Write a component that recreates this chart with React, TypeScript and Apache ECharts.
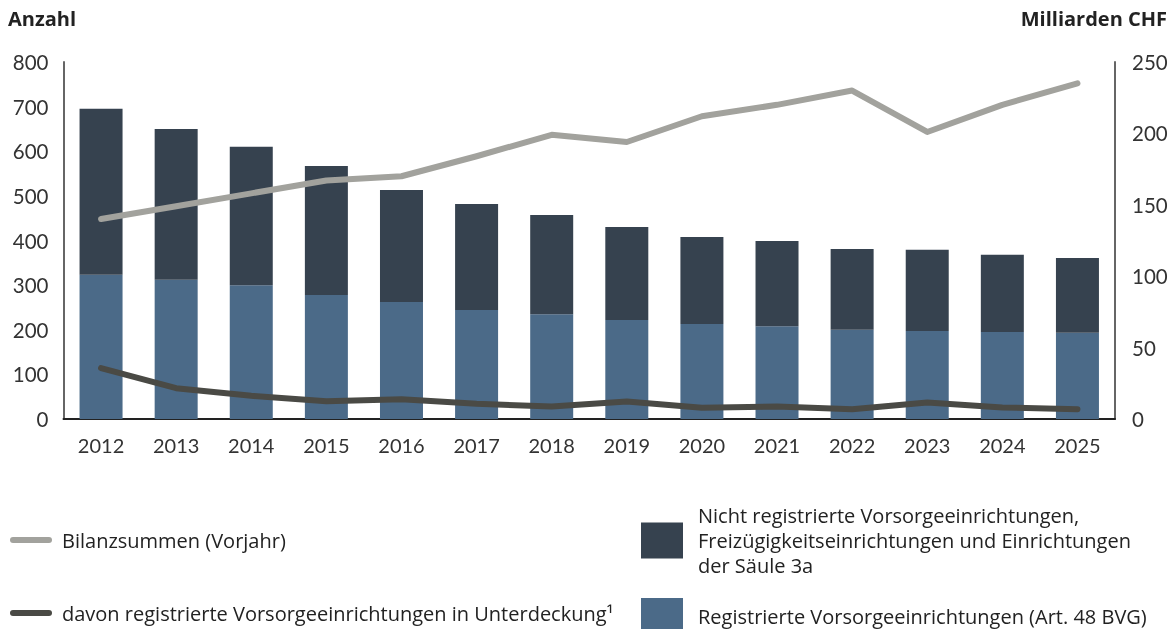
import React, { useEffect, useRef } from "react";
import * as echarts from "echarts";

const years = ["2012", "2013", "2014", "2015", "2016", "2017", "2018", "2019", "2020", "2021", "2022", "2023", "2024", "2025"];
const registered = [323, 312, 300, 278, 262, 244, 235, 222, 213, 208, 200, 197, 195, 193];
const nonRegistered = [372, 338, 310, 289, 251, 238, 222, 208, 195, 191, 181, 182, 173, 168];
const balanceSums = [140, 149, 158, 167, 170, 184, 199, 194, 212, 220, 230, 201, 220, 235];
const underfunded = [114, 69, 52, 40, 44, 34, 28, 39, 25, 28, 22, 37, 26, 22];

const nameGray = "Bilanzsummen (Vorjahr)";
const nameDarkLine = "davon registrierte Vorsorgeeinrichtungen in Unterdeckung\u00B9";
const nameDarkBar = "Nicht registrierte Vorsorgeeinrichtungen,\nFreizügigkeitseinrichtungen und Einrichtungen\nder Säule 3a";
const nameBlueBar = "Registrierte Vorsorgeeinrichtungen (Art. 48 BVG)";

const FONT = "Lato, 'Open Sans', sans-serif";
const LFONT = "'Open Sans', Lato, sans-serif";
const pill = "path://M3,0 L39,0 A3,3 0 0 1 39,6 L3,6 A3,3 0 0 1 3,0 Z";

export default function App() {
  const ref = useRef<HTMLDivElement>(null);
  useEffect(() => {
    if (!ref.current) return;
    const chart = echarts.init(ref.current, null, { renderer: "svg" });
    const legendText = { fontFamily: LFONT, fontSize: 20, color: "#222", padding: [0, 0, 0, 5] };
    chart.setOption({
      animation: false,
      textStyle: { fontFamily: FONT },
      title: [
        { text: "Anzahl", left: 3, top: 3, textStyle: { fontFamily: LFONT, fontSize: 20, fontWeight: "bold", color: "#222" } },
        { text: "Milliarden CHF", right: 3, top: 3, textStyle: { fontFamily: LFONT, fontSize: 20, fontWeight: "bold", color: "#222" } },
      ],
      grid: { left: 63.5, right: 60, top: 62, bottom: 210, containLabel: false },
      xAxis: {
        type: "category",
        data: years,
        axisLine: { lineStyle: { color: "#222", width: 2 } },
        axisTick: { show: false },
        axisLabel: { fontFamily: FONT, fontSize: 20, color: "#333", margin: 16 },
      },
      yAxis: [
        {
          type: "value",
          min: 0,
          max: 800,
          interval: 100,
          position: "left",
          axisLine: { show: true, lineStyle: { color: "#666", width: 2 } },
          axisTick: { show: false },
          splitLine: { show: false },
          axisLabel: { fontFamily: FONT, fontSize: 20.5, color: "#333", margin: 15, padding: [16, 0, 0, 0] },
        },
        {
          type: "value",
          min: 0,
          max: 250,
          interval: 50,
          position: "right",
          axisLine: { show: true, lineStyle: { color: "#666", width: 2 } },
          axisTick: { show: false },
          splitLine: { show: false },
          axisLabel: { fontFamily: FONT, fontSize: 20.5, color: "#333", margin: 17, padding: [16, 0, 0, 0] },
        },
      ],
      legend: [
        {
          data: [{ name: nameGray, icon: pill }],
          left: 10,
          top: 530,
          padding: 0,
          itemWidth: 42,
          itemHeight: 6,
          selectedMode: false,
          textStyle: legendText,
        },
        {
          data: [{ name: nameDarkLine, icon: pill }],
          left: 10,
          top: 603,
          padding: 0,
          itemWidth: 42,
          itemHeight: 6,
          selectedMode: false,
          textStyle: legendText,
        },
        {
          data: [{ name: nameDarkBar, icon: "rect" }],
          left: 641,
          top: 503,
          padding: 0,
          itemWidth: 42,
          itemHeight: 36,
          selectedMode: false,
          textStyle: { ...legendText, lineHeight: 25, padding: [0, 0, 0, 10] },
        },
        {
          data: [{ name: nameBlueBar, icon: "rect" }],
          left: 641,
          top: 598,
          padding: 0,
          itemWidth: 42,
          itemHeight: 36,
          selectedMode: false,
          textStyle: { ...legendText, padding: [0, 0, 0, 10] },
        },
      ],
      series: [
        {
          name: nameBlueBar,
          type: "bar",
          stack: "total",
          data: registered,
          barWidth: 43,
          itemStyle: { color: "#4b6a88" },
        },
        {
          name: nameDarkBar,
          type: "bar",
          stack: "total",
          data: nonRegistered,
          barWidth: 43,
          itemStyle: { color: "#36424f" },
        },
        {
          name: nameGray,
          type: "line",
          yAxisIndex: 1,
          data: balanceSums,
          symbol: "none",
          lineStyle: { color: "#a2a29d", width: 6, cap: "round", join: "round" },
          itemStyle: { color: "#a2a29d" },
        },
        {
          name: nameDarkLine,
          type: "line",
          yAxisIndex: 0,
          data: underfunded,
          symbol: "none",
          lineStyle: { color: "#4a4a45", width: 6, cap: "round", join: "round" },
          itemStyle: { color: "#4a4a45" },
        },
      ],
    });
    return () => chart.dispose();
  }, []);
  return <div ref={ref} style={{ position: "fixed", left: 0, top: 0, width: 1175, height: 629 }} />;
}
